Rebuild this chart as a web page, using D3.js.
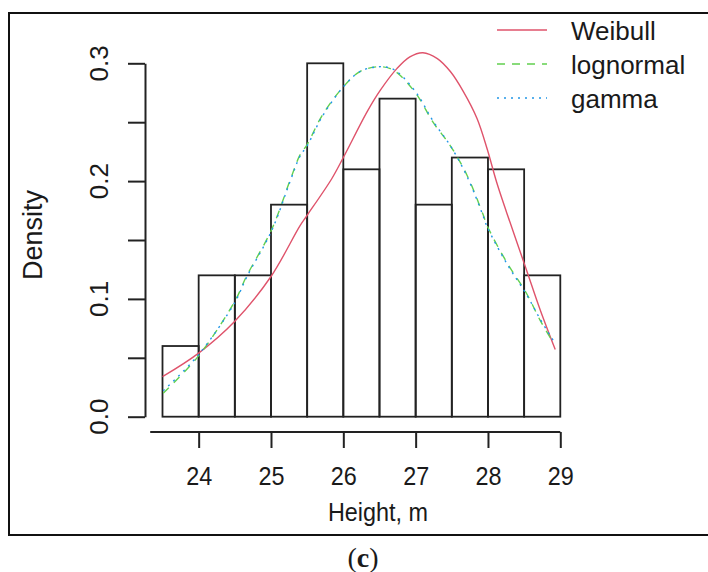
<!DOCTYPE html>
<html>
<head>
<meta charset="utf-8">
<script src="https://cdn.jsdelivr.net/npm/d3@7"></script>
<style>
  html, body { margin: 0; padding: 0; background: #fff; }
  svg { display: block; }
  text { font-family: "Liberation Sans", Arial, sans-serif; fill: #1a1a1a; }
</style>
</head>
<body>
<svg id="chart" width="708" height="572"></svg>
<script>
// ---- Data ----
const binEdges = [23.5, 24, 24.5, 25, 25.5, 26, 26.5, 27, 27.5, 28, 28.5, 29];
const binDensity = [0.06, 0.12, 0.12, 0.18, 0.30, 0.21, 0.27, 0.18, 0.22, 0.21, 0.12];

const weibullX = [23.5, 24.0, 24.5, 25.0, 25.4, 25.5, 25.84, 26.0, 26.33, 26.51, 26.74, 26.92, 27.1, 27.3, 27.48, 27.66, 27.85, 27.99, 28.12, 28.26, 28.53, 28.72, 28.93];
const weibullY = [0.034, 0.054, 0.081, 0.119, 0.162, 0.171, 0.202, 0.22, 0.259, 0.277, 0.2955, 0.3055, 0.309, 0.304, 0.293, 0.276, 0.253, 0.227, 0.199, 0.173, 0.125, 0.091, 0.057];

const lognormalX = [23.51, 23.99, 24.5, 24.66, 25.01, 25.26, 25.4, 25.5, 25.71, 26.0, 26.23, 26.47, 26.65, 26.78, 27.02, 27.24, 27.48, 27.71, 27.93, 27.99, 28.26, 28.53, 28.72, 28.9];
const lognormalY = [0.020, 0.051, 0.098, 0.119, 0.159, 0.200, 0.222, 0.231, 0.256, 0.280, 0.293, 0.297, 0.2955, 0.290, 0.273, 0.250, 0.230, 0.205, 0.172, 0.162, 0.131, 0.105, 0.082, 0.063];

const gammaX = [23.51, 23.99, 24.5, 24.66, 25.01, 25.26, 25.4, 25.5, 25.71, 26.0, 26.23, 26.47, 26.65, 26.78, 27.02, 27.24, 27.48, 27.71, 27.93, 27.99, 28.26, 28.53, 28.72, 28.9];
const gammaY = [0.022, 0.052, 0.097, 0.118, 0.158, 0.199, 0.221, 0.230, 0.255, 0.280, 0.293, 0.297, 0.296, 0.291, 0.274, 0.251, 0.230, 0.204, 0.171, 0.161, 0.130, 0.104, 0.083, 0.065];

const xTicks = [24, 25, 26, 27, 28, 29];
const yTicks = [0, 0.05, 0.1, 0.15, 0.2, 0.25, 0.3];
const yTickLabels = ["0.0", "0.1", "0.2", "0.3"];
const yLabelValues = [0, 0.1, 0.2, 0.3];

const legendNames = ["Weibull", "lognormal", "gamma"];
const seriesColors = ["#DF536B", "#61D04F", "#2297E6"];
const seriesDash = [null, "8,7", "2,5"];

// ---- Setup ----
const svg = d3.select("#chart");
const x = d3.scaleLinear().domain([23.5, 29]).range([162.5, 560.3]);
const y = d3.scaleLinear().domain([0, 0.3]).range([416.7, 63.3]);

// outer frame
svg.append("rect")
  .attr("x", 9).attr("y", 13).attr("width", 710).attr("height", 522)
  .attr("fill", "none").attr("stroke", "#111").attr("stroke-width", 2);

// histogram bars
const bins = binDensity.map((d, i) => ({ x0: binEdges[i], x1: binEdges[i + 1], d }));
svg.append("g").selectAll("rect").data(bins).join("rect")
  .attr("x", b => x(b.x0))
  .attr("y", b => y(b.d))
  .attr("width", b => x(b.x1) - x(b.x0))
  .attr("height", b => y(0) - y(b.d))
  .attr("fill", "none")
  .attr("stroke", "#222")
  .attr("stroke-width", 1.8);

// curves
const series = [
  { xs: weibullX, ys: weibullY },
  { xs: lognormalX, ys: lognormalY },
  { xs: gammaX, ys: gammaY }
];
const line = d3.line().x(p => x(p[0])).y(p => y(p[1])).curve(d3.curveCatmullRom.alpha(0.5));
series.forEach((s, i) => {
  const pts = s.xs.map((v, j) => [v, s.ys[j]]);
  svg.append("path")
    .datum(pts)
    .attr("d", line)
    .attr("fill", "none")
    .attr("stroke", seriesColors[i])
    .attr("stroke-width", 1.4)
    .attr("stroke-dasharray", seriesDash[i]);
});

// x axis
const xAxisG = svg.append("g")
  .attr("transform", "translate(0,432)")
  .call(d3.axisBottom(x).tickValues(xTicks).tickSize(16).tickSizeOuter(0).tickFormat(d3.format("d")));
xAxisG.select(".domain")
  .attr("d", `M${x(23.33)},0H${x(29)}`)
  .attr("stroke", "#222").attr("stroke-width", 2);
xAxisG.selectAll(".tick line").attr("stroke", "#222").attr("stroke-width", 2);
xAxisG.selectAll(".tick text")
  .attr("y", 0).attr("dy", null)
  .attr("transform", "translate(0,53) scale(0.9,1)")
  .style("font-family", "'Liberation Sans', Arial, sans-serif")
  .style("font-size", "26px")
  .attr("fill", "#1a1a1a");

// y axis
const yAxisG = svg.append("g")
  .attr("transform", "translate(145,0)")
  .call(d3.axisLeft(y).tickValues(yTicks).tickSize(17).tickSizeOuter(0).tickFormat(""));
yAxisG.select(".domain").attr("stroke", "#222").attr("stroke-width", 2);
yAxisG.selectAll(".tick line").attr("stroke", "#222").attr("stroke-width", 2);

svg.append("g").selectAll("text").data(yLabelValues).join("text")
  .attr("transform", d => `translate(108,${y(d)}) rotate(-90)`)
  .attr("text-anchor", "middle")
  .style("font-size", "26px")
  .text((d, i) => yTickLabels[i]);

// axis titles
svg.append("text")
  .attr("transform", "translate(42,235) rotate(-90)")
  .attr("text-anchor", "middle")
  .style("font-size", "27px")
  .text("Density");

svg.append("text")
  .attr("x", 378).attr("y", 521)
  .attr("text-anchor", "middle")
  .attr("transform", "translate(37.8,0) scale(0.9,1)")
  .style("font-size", "26px")
  .text("Height, m");

// legend
const legendY = [30, 64, 98];
legendNames.forEach((name, i) => {
  svg.append("line")
    .attr("x1", 497).attr("x2", 547)
    .attr("y1", legendY[i]).attr("y2", legendY[i])
    .attr("stroke", seriesColors[i])
    .attr("stroke-width", 1.4)
    .attr("stroke-dasharray", seriesDash[i]);
  svg.append("text")
    .attr("x", 571).attr("y", legendY[i] + 10)
    .style("font-size", "26px")
    .text(name);
});

// panel label
const cap = svg.append("text")
  .attr("x", 363).attr("y", 567)
  .attr("text-anchor", "middle")
  .style("font-family", "'Liberation Serif', 'Times New Roman', serif")
  .style("font-size", "28px")
  .attr("fill", "#000");
cap.append("tspan").text("(");
cap.append("tspan").style("font-weight", "bold").text("c");
cap.append("tspan").text(")");
</script>
</body>
</html>
